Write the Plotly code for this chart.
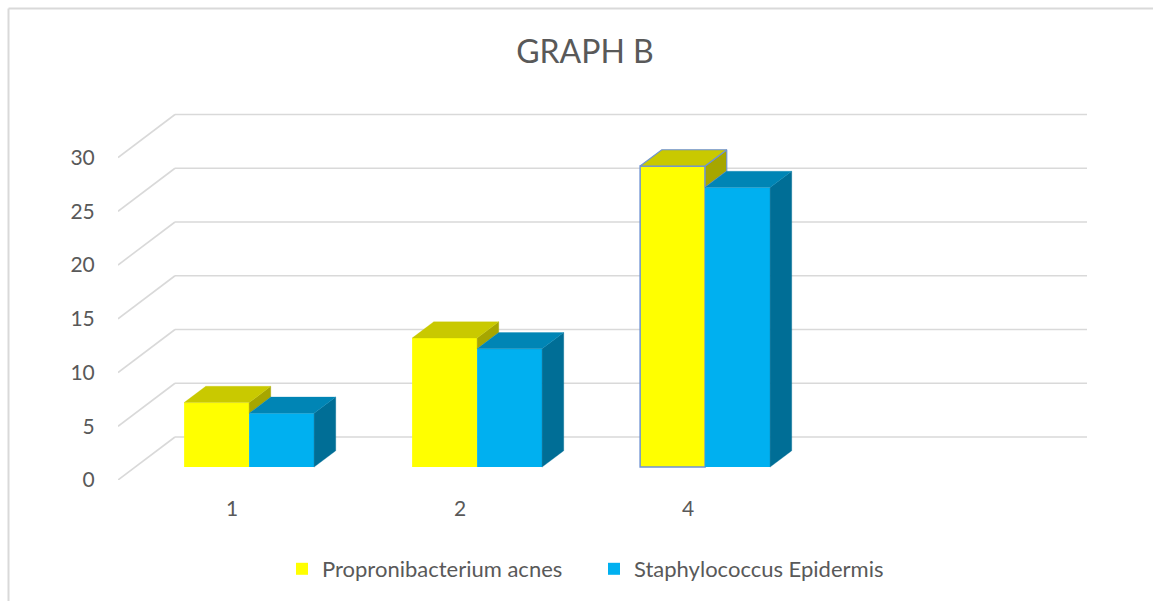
import plotly.graph_objects as go

# ---- data ----
categories = ["1", "2", "4"]
acnes = [6, 12, 28]
epidermis = [5, 11, 26]
series_names = ["Propronibacterium acnes", "Staphylococcus Epidermis"]
y_ticks = [0, 5, 10, 15, 20, 25, 30]
n_slots = 4  # Excel category axis has one empty trailing slot

# ---- styling / projection (oblique 3D look) ----
FRONT = ["#FFFF00", "#00B0F0"]
TOP = ["#C9C900", "#0085B5"]
SIDE = ["#A6A600", "#006E96"]
TXT = "#595959"
GRID = "#D9D9D9"
FONT = "Lato"

WALL_DX, WALL_DY = 0.25, 4.0          # depth of the chart box in axis units
BAR_FRONT = 0.30                      # fraction of depth where bar fronts sit
BAR_DEPTH = 0.38                      # fraction of depth taken by bars
BAR_W = 0.285                         # width of one bar (category = 1)
OUTLINE = "#6F93D3"

fdx, fdy = WALL_DX * BAR_FRONT, WALL_DY * BAR_FRONT
ddx, ddy = WALL_DX * BAR_DEPTH, WALL_DY * BAR_DEPTH

fig = go.Figure()

# gridlines: diagonal left wall + back wall
shapes = []
for v in y_ticks:
    shapes.append(dict(type="line", xref="x", yref="y", x0=0, y0=v, x1=WALL_DX, y1=v + WALL_DY,
                       line=dict(color=GRID, width=1.6), layer="below"))
    shapes.append(dict(type="line", xref="x", yref="y", x0=WALL_DX, y0=v + WALL_DY,
                       x1=n_slots + WALL_DX, y1=v + WALL_DY,
                       line=dict(color=GRID, width=1.6), layer="below"))

# chart border (top + left)
L, R, T, B = 118, 1088, 100, 480
W, H = R - L, B - T
def px(p):
    return (p - L) / W
def py(p):
    return (B - p) / H
shapes.append(dict(type="line", xref="paper", yref="paper", x0=px(8.5), y0=py(8.5), x1=px(1153), y1=py(8.5),
                   line=dict(color=GRID, width=2)))
shapes.append(dict(type="line", xref="paper", yref="paper", x0=px(8.5), y0=py(8.5), x1=px(8.5), y1=py(601),
                   line=dict(color=GRID, width=2)))

series = [acnes, epidermis]
offsets = [-BAR_W / 2, BAR_W / 2]

for si, vals in enumerate(series):
    xs = [k + 0.5 + fdx + offsets[si] for k in range(len(categories))]
    lw = [1.5 if (si == 0 and k == 2) else 0 for k in range(len(categories))]
    fig.add_trace(go.Bar(
        x=xs, y=vals, base=[fdy] * len(vals), width=BAR_W,
        name=series_names[si],
        marker=dict(color=FRONT[si], line=dict(color=OUTLINE, width=lw)),
        hoverinfo="skip",
    ))

# top and side faces
for si, vals in enumerate(series):
    for k, v in enumerate(vals):
        xc = k + 0.5 + fdx + offsets[si]
        x0, x1 = xc - BAR_W / 2, xc + BAR_W / 2
        b = fdy
        h = b + v
        outlined = (si == 0 and k == 2)
        lc = OUTLINE if outlined else TOP[si]
        lwid = 1.2 if outlined else 0.3
        # side face (clipped by the neighbouring bar, if any, at its height)
        if si + 1 < len(series):
            lo = b + min(series[si + 1][k], v)
        else:
            lo = b
        fig.add_trace(go.Scatter(
            x=[x1, x1, x1 + ddx, x1 + ddx, x1],
            y=[lo, h, h + ddy, lo + ddy, lo],
            mode="lines", fill="toself", fillcolor=SIDE[si],
            line=dict(color=OUTLINE if outlined else SIDE[si], width=lwid),
            showlegend=False, hoverinfo="skip"))
        fig.add_trace(go.Scatter(
            x=[x0, x1, x1 + ddx, x0 + ddx, x0],
            y=[h, h, h + ddy, h + ddy, h],
            mode="lines", fill="toself", fillcolor=TOP[si],
            line=dict(color=lc, width=lwid),
            showlegend=False, hoverinfo="skip"))

fig.update_layout(
    width=1153, height=601,
    margin=dict(l=L, r=1153 - R, t=T, b=601 - B, autoexpand=False),
    paper_bgcolor="white", plot_bgcolor="white",
    font=dict(family=FONT, color=TXT, size=21),
    title=dict(text="GRAPH B", x=585 / 1153, xref="container", xanchor="center",
               y=1 - 52 / 601, yref="container", yanchor="middle",
               font=dict(family=FONT, size=32, color=TXT)),
    barmode="overlay",
    showlegend=True,
    legend=dict(orientation="h", x=px(282), xanchor="left", y=py(569), yanchor="middle",
                font=dict(family=FONT, size=22, color=TXT), itemclick=False,
                entrywidth=267, entrywidthmode="pixels",
                traceorder="normal", bgcolor="rgba(0,0,0,0)"),
    shapes=shapes,
)
fig.update_xaxes(range=[0, W / 228.0], tickvals=[k + 0.5 for k in range(n_slots)],
                 ticktext=categories + [""], showgrid=False, zeroline=False, showline=False,
                 ticks="outside", ticklen=10, tickcolor="rgba(0,0,0,0)", fixedrange=True)
fig.update_yaxes(range=[0, H / 10.75], tickvals=y_ticks, showgrid=False, zeroline=False,
                 showline=False, ticks="outside", ticklen=18, tickcolor="rgba(0,0,0,0)",
                 fixedrange=True)

fig.write_html("out.html", config={"displayModeBar": False},
               post_script="document.body.style.margin='0';")
